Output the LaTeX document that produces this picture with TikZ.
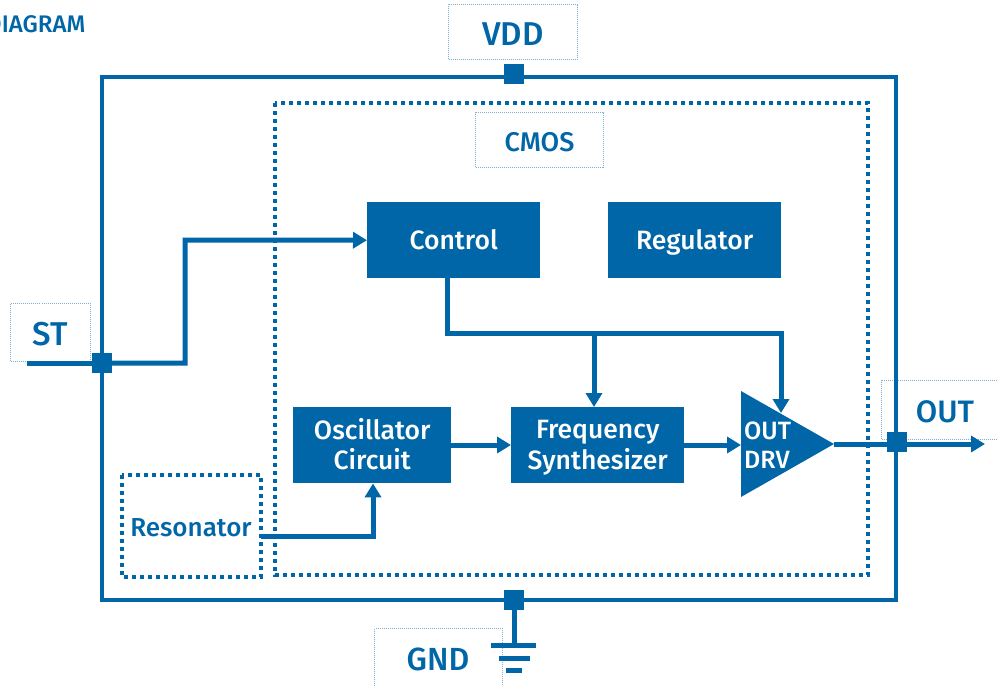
\documentclass[tikz,border=0pt]{standalone}
\usepackage{fontspec}
\setmainfont{Fira Sans Medium}
\usetikzlibrary{arrows.meta,calc}
\definecolor{mainblue}{HTML}{0066A8}
\definecolor{lightblue}{HTML}{7FB0D0}
\newcommand{\ls}{\rule[-5pt]{0pt}{29pt}}
\newcommand{\dropped}[1]{\raisebox{-2pt}[\height][\depth]{#1}}
\tikzset{
  x=1pt,y=-1pt,
  wire/.style={draw=mainblue,line width=5pt},
  arrowwire/.style={wire,-{Triangle[length=14pt,width=16pt]}},
  frame/.style={draw=mainblue,line width=4pt},
  dotbox/.style={draw=mainblue,line width=4pt,dash pattern=on 4pt off 4pt},
  block/.style={fill=mainblue,text=white,inner sep=0pt,align=center,font=\fontsize{26.5}{28}\selectfont,anchor=north west},
  pin/.style={draw=lightblue,line width=1pt,dash pattern=on 1pt off 1pt,inner sep=0pt,text=mainblue,anchor=north west},
  junction/.style={fill=mainblue,minimum width=20pt,minimum height=20pt,inner sep=0pt},
  bluetext/.style={text=mainblue,inner sep=0pt},
  gbar/.style={draw=mainblue,line width=5pt},
}
\begin{document}
\begin{tikzpicture}
\useasboundingbox (0,0) rectangle (998,685);
\clip (0,0) rectangle (998,685);
\node[bluetext,anchor=west,font=\fontsize{24}{28}\selectfont] (title) at (-14,24) {DIAGRAM};
% pin label boxes
\node[pin,minimum width=129pt,minimum height=55pt,font=\fontsize{33}{38}\selectfont] (vdd) at (448,4) {\dropped{VDD}};
\node[pin,minimum width=128pt,minimum height=55pt,font=\fontsize{27}{31}\selectfont] (cmos) at (475,112) {\dropped{CMOS}};
\node[pin,minimum width=80pt,minimum height=58pt,font=\fontsize{33}{38}\selectfont] (st) at (10,303) {\dropped{ST}};
\node[pin,minimum width=130pt,minimum height=59pt] (outbox) at (881,380) {};
\node[bluetext,font=\fontsize{31}{36}\selectfont] (outlabel) at (945,412) {OUT};
\node[pin,minimum width=128pt,minimum height=70pt] (gndbox) at (374,628) {};
\node[bluetext,font=\fontsize{32}{38}\selectfont] (gndlabel) at (438,659) {GND};
% frames
\draw[frame] (101.5,77) rectangle (896,600);
\draw[dotbox] (275,103) rectangle (868,575);
\node[bluetext,font=\fontsize{26}{30}\selectfont] (reslabel) at (191,528) {Resonator};
\coordinate (resA) at (122,475);
\coordinate (resB) at (261,577);
\draw[dotbox] (resA) rectangle (resB);
% blocks
\node[block,minimum width=173pt,minimum height=76pt] (control) at (367,202) {\ls Control};
\node[block,minimum width=173pt,minimum height=76pt] (regulator) at (608,202) {\ls Regulator};
\node[block,minimum width=158pt,minimum height=76pt] (osc) at (293,407) {\ls Oscillator\\\ls Circuit};
\node[block,minimum width=173pt,minimum height=76pt] (freq) at (511,407) {\ls Frequency\\\ls Synthesizer};
\fill[mainblue] (741,391) coordinate (drvA) -- (741,497) -- (834,444) coordinate (drvOut) -- cycle;
\node[text=white,inner sep=0pt,align=left,anchor=west,font=\fontsize{25}{29}\selectfont] (drv) at (744,445) {OUT\\DRV};
% junctions
\node[junction] (jvdd) at (514,74) {};
\node[junction] (jst) at (101.5,363) {};
\node[junction] (jout) at (897,442) {};
\node[junction] (jgnd) at (514,600) {};
% connectors
\coordinate (stfree) at (27,363);
\coordinate (outfree) at (985,444);
\draw[wire] (stfree) -- (jst.center);
\draw[arrowwire] (jst.center) -| (185,240) -- (control.west);
\coordinate (drvTop) at (781,413);
\draw[wire] (control.south -| 447,278) |- (594,333);
\draw[arrowwire] (594,333) -- (594,407);
\draw[arrowwire] (594,333) -| (drvTop);
\draw[arrowwire] (osc.east |- 0,445) -- (freq.west |- 0,445);
\draw[arrowwire] (freq.east |- 0,445) -- (741,445);
\draw[arrowwire] (drvOut) -- (outfree);
\draw[arrowwire] (resB |- 0,536) -| (osc.south -| 373,0);
% ground
\coordinate (gnd1) at (514,645);
\draw[wire] (jgnd.center) -- (gnd1);
\draw[gbar] (491,645) -- (536,645);
\draw[gbar] (499,658) -- (530,658);
\draw[gbar] (506,670) -- (522,670);
\end{tikzpicture}
\end{document}
